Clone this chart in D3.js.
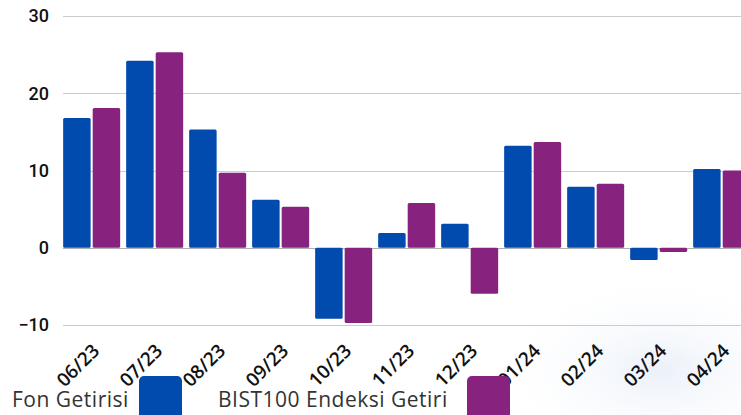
<!DOCTYPE html>
<html>
<head>
<meta charset="utf-8">
<script src="https://cdn.jsdelivr.net/npm/d3@7"></script>
<style>
  html, body { margin: 0; padding: 0; background: #fff; }
  svg { display: block; }
</style>
</head>
<body>
<div id="chart"></div>
<script>
// Monthly returns, fund vs BIST100
var months = ['06/23', '07/23', '08/23', '09/23', '10/23', '11/23', '12/23', '01/24', '02/24', '03/24', '04/24'];
var fonGetirisi = [16.8, 24.2, 15.3, 6.2, -9.2, 1.9, 3.1, 13.2, 7.9, -1.6, 10.2];
var bistGetirisi = [18.1, 25.3, 9.7, 5.3, -9.75, 5.8, -5.95, 13.7, 8.3, -0.55, 10.0];
var yTicks = [-10, 0, 10, 20, 30];
var seriesNames = ['Fon Getirisi', 'BIST100 Endeksi Getiri'];
var seriesColors = ['#004bad', '#88227f'];

var WIDTH = 741, HEIGHT = 415;

var svg = d3.select('#chart').append('svg')
    .attr('width', WIDTH)
    .attr('height', HEIGHT);

// faint decorative glow in the lower right, like the background image
var defs = svg.append('defs');
var grad = defs.append('radialGradient').attr('id', 'glow')
    .attr('cx', '0.5').attr('cy', '0.5').attr('r', '0.5');
grad.append('stop').attr('offset', '0%').attr('stop-color', '#e6edf8').attr('stop-opacity', 0.8);
grad.append('stop').attr('offset', '100%').attr('stop-color', '#ffffff').attr('stop-opacity', 0);
svg.append('ellipse')
    .attr('cx', 660).attr('cy', 370)
    .attr('rx', 170).attr('ry', 100)
    .attr('fill', 'url(#glow)');

var y = d3.scaleLinear().domain([-10, 30]).range([325, 16]);

var x = d3.scaleBand()
    .domain(months)
    .range([60, 60 + 63 * 11.005])
    .paddingInner(0.095)
    .paddingOuter(0.05);

var xs = d3.scaleBand()
    .domain([0, 1])
    .range([0, x.bandwidth()])
    .paddingInner(0.07);

// gridlines
var grid = svg.append('g').attr('class', 'grid');
grid.selectAll('line').data(yTicks).enter().append('line')
    .attr('x1', 63).attr('x2', WIDTH)
    .attr('y1', function(d) { return Math.round(y(d)) + 0.5; })
    .attr('y2', function(d) { return Math.round(y(d)) + 0.5; })
    .style('stroke', function(d) { return d === 0 ? '#b0b0b0' : '#cccccc'; })
    .style('stroke-width', 1);

// y axis labels
var yAxis = svg.append('g')
    .attr('transform', 'translate(49,0)')
    .call(d3.axisLeft(y).tickValues(yTicks).tickSize(0).tickPadding(0));
yAxis.select('.domain').remove();
yAxis.selectAll('text')
    .style('font-family', 'Roboto, "Liberation Sans", sans-serif')
    .style('font-weight', '500')
    .style('font-size', '18px')
    .style('fill', '#111');

// bars
var rows = months.map(function(m, i) {
    return { month: m, values: [fonGetirisi[i], bistGetirisi[i]] };
});

var groups = svg.append('g').selectAll('g.month').data(rows).enter().append('g')
    .attr('class', 'month')
    .attr('transform', function(d) { return 'translate(' + x(d.month) + ',0)'; });

groups.selectAll('rect').data(function(d) {
        return d.values.map(function(v, k) { return { k: k, v: v }; });
    }).enter().append('rect')
    .attr('x', function(d) { return xs(d.k); })
    .attr('width', xs.bandwidth())
    .attr('y', function(d) { return Math.min(y(d.v), y(0)); })
    .attr('height', function(d) { return Math.abs(y(d.v) - y(0)); })
    .attr('rx', 1.5)
    .style('fill', function(d) { return seriesColors[d.k]; });

// x axis labels, rotated
var xAxis = svg.append('g')
    .attr('transform', 'translate(0,' + 338 + ')')
    .call(d3.axisBottom(x).tickSize(0).tickPadding(0));
xAxis.select('.domain').remove();
xAxis.selectAll('text')
    .style('font-family', '"Open Sans", Roboto, sans-serif')
    .style('font-weight', '600')
    .style('font-size', '19px')
    .style('fill', '#111')
    .attr('text-anchor', 'end')
    .attr('dy', '0')
    .attr('transform', 'translate(9,14) rotate(-45)');

// legend
var legend = svg.append('g').attr('class', 'legend');
var legendItems = [
    { name: seriesNames[0], color: seriesColors[0], tx: 12, sx: 139 },
    { name: seriesNames[1], color: seriesColors[1], tx: 218, sx: 467 }
];
legend.selectAll('text').data(legendItems).enter().append('text')
    .attr('x', function(d) { return d.tx; })
    .attr('y', 407)
    .text(function(d) { return d.name; })
    .style('font-family', '"Open Sans", Lato, sans-serif')
    .style('font-weight', '500')
    .style('font-size', '21px')
    .style('letter-spacing', '0.5px')
    .style('fill', '#333');
legend.selectAll('rect').data(legendItems).enter().append('rect')
    .attr('x', function(d) { return d.sx; })
    .attr('y', 376)
    .attr('width', 43)
    .attr('height', 50)
    .attr('rx', 5)
    .style('fill', function(d) { return d.color; });
</script>
</body>
</html>
